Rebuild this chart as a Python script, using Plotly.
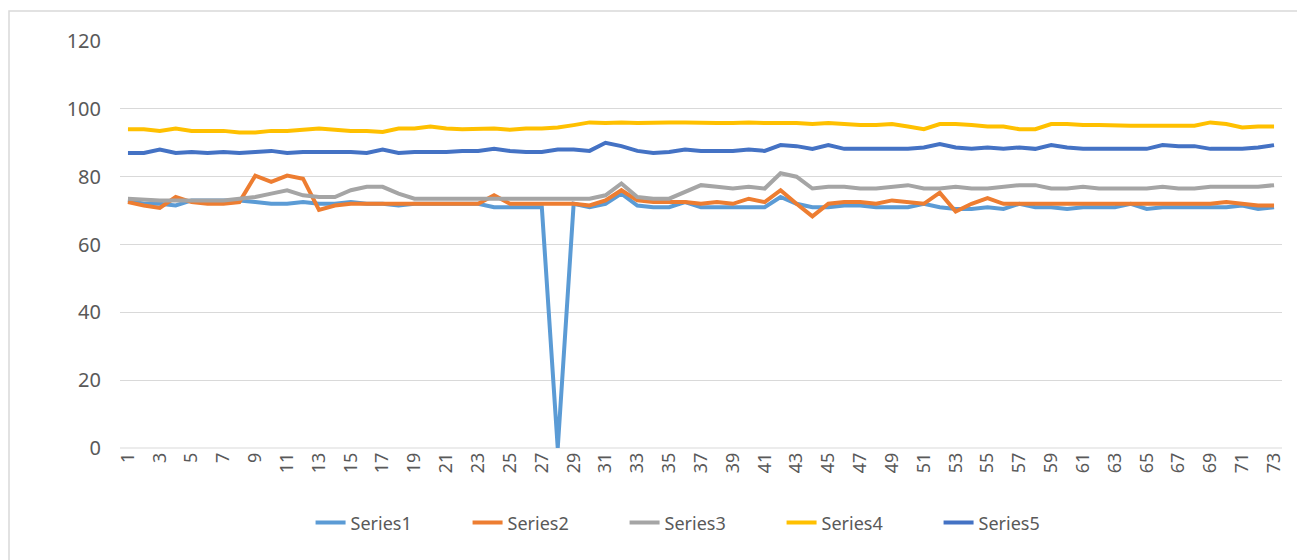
import plotly.graph_objects as go

categories = list(range(1, 74))

series1 = [73, 72, 72, 71.5, 73, 73, 73, 73, 72.5, 72, 72, 72.5, 72, 72, 72.5, 72, 72, 71.5, 72, 72,
           72, 72, 72, 71, 71, 71, 71, 0, 72, 71, 72, 75, 71.5, 71, 71, 72.5, 71, 71, 71, 71,
           71, 74, 72, 71, 71, 71.5, 71.5, 71, 71, 71, 72, 71, 70.5, 70.5, 71, 70.5, 72, 71, 71, 70.5,
           71, 71, 71, 72, 70.5, 71, 71, 71, 71, 71, 71.5, 70.5, 71]
series2 = [72.5, 71.5, 70.8, 74, 72.5, 72, 72, 72.5, 80.3, 78.5, 80.3, 79.4, 70.2, 71.5, 72, 72, 72, 72, 72, 72,
           72, 72, 72, 74.5, 72, 72, 72, 72, 72, 71.5, 73, 76, 73, 72.5, 72.5, 72.5, 72, 72.5, 72, 73.5,
           72.5, 76, 72, 68.3, 72, 72.5, 72.5, 72, 73, 72.5, 72, 75.3, 69.7, 72, 73.7, 72, 72, 72, 72, 72,
           72, 72, 72, 72, 72, 72, 72, 72, 72, 72.5, 72, 71.5, 71.5]
series3 = [73.5, 73.2, 73, 73, 73, 73, 73, 73.5, 74, 75, 76, 74.5, 74, 74, 76, 77, 77, 75, 73.5, 73.5,
           73.5, 73.5, 73.5, 73.5, 73.5, 73.5, 73.5, 73.5, 73.5, 73.5, 74.5, 78, 74, 73.5, 73.5, 75.5, 77.5, 77, 76.5, 77,
           76.5, 81, 80, 76.5, 77, 77, 76.5, 76.5, 77, 77.5, 76.5, 76.5, 77, 76.5, 76.5, 77, 77.5, 77.5, 76.5, 76.5,
           77, 76.5, 76.5, 76.5, 76.5, 77, 76.5, 76.5, 77, 77, 77, 77, 77.5]
series4 = [94, 94, 93.5, 94.2, 93.5, 93.5, 93.5, 93, 93, 93.5, 93.5, 93.8, 94.2, 93.8, 93.5, 93.5, 93.2, 94.2, 94.2, 94.8,
           94.2, 94, 94.2, 94.2, 93.8, 94.2, 94.2, 94.5, 95.2, 96, 95.8, 96, 95.8, 96, 96, 96, 95.8, 95.8, 95.8, 96,
           95.8, 95.8, 95.8, 95.5, 95.8, 95.5, 95.2, 95.2, 95.5, 94.8, 94, 95.5, 95.5, 95.2, 94.8, 94.8, 94, 94, 95.5, 95.5,
           95.2, 95.2, 95, 95, 95, 95, 95, 95, 96, 95.5, 94.5, 94.8, 94.8]
series5 = [87, 87, 88, 87, 87.3, 87, 87.3, 87, 87.3, 87.6, 87, 87.3, 87.3, 87.3, 87.3, 87, 88, 87, 87.3, 87.3,
           87.3, 87.6, 87.6, 88.2, 87.6, 87.3, 87.3, 88, 88, 87.6, 90, 89, 87.6, 87, 87.3, 88, 87.6, 87.6, 87.6, 88,
           87.6, 89.3, 89, 88.2, 89.3, 88.2, 88.2, 88.2, 88.2, 88.2, 88.6, 89.6, 88.6, 88.2, 88.6, 88.2, 88.6, 88.2, 89.3, 88.6,
           88.2, 88.2, 88.2, 88.2, 88.2, 89.3, 89, 89, 88.2, 88.2, 88.2, 88.6, 89.3]

names = ["Series1", "Series2", "Series3", "Series4", "Series5"]
colors = ["#5B9BD5", "#ED7D31", "#A5A5A5", "#FFC000", "#4472C4"]
all_series = [series1, series2, series3, series4, series5]

fig = go.Figure()
for name, color, vals in zip(names, colors, all_series):
    fig.add_trace(go.Scatter(x=categories, y=vals, mode="lines", name=name,
                             line=dict(color=color, width=4)))

font_color = "#595959"
# page body has an 8px default margin, so the figure is drawn 8px right/down
fig.update_layout(
    width=1297, height=552,
    margin=dict(l=112, r=23, t=33, b=112, autoexpand=False),
    paper_bgcolor="white", plot_bgcolor="white",
    font=dict(family="Noto Sans, Liberation Sans, sans-serif", size=16, color=font_color),
    showlegend=True,
    legend=dict(orientation="h", x=0.164, xanchor="left", y=-0.184, yanchor="middle",
                bgcolor="rgba(0,0,0,0)", entrywidth=112, entrywidthmode="pixels",
                font=dict(size=18, color=font_color), tracegroupgap=0),
    xaxis=dict(range=[0.5, 73.5], tickmode="array", tickvals=categories[::2],
               ticktext=[str(c) for c in categories[::2]], tickangle=-90,
               showgrid=False, zeroline=False, showline=False, ticks="", automargin=False,
               tickfont=dict(size=18, color=font_color)),
    yaxis=dict(range=[0, 120], dtick=20, showgrid=True, gridcolor="#D9D9D9", gridwidth=1,
               zeroline=False, showline=False, ticks="", ticklabelstandoff=18, automargin=False,
               tickfont=dict(size=20, color=font_color)),
    shapes=[
        dict(type="line", xref="paper", yref="paper", x0=0, x1=1, y0=0, y1=0,
             line=dict(color="#D9D9D9", width=1), layer="below"),
        dict(type="rect", xref="paper", yref="paper",
             x0=(1 - 112) / 1162, x1=(1310 - 112) / 1162,
             y0=(440 - 570) / 407, y1=(440 - 3) / 407,
             line=dict(color="#D9D9D9", width=1.5), layer="below"),
    ],
)

fig.write_html("out.html")
